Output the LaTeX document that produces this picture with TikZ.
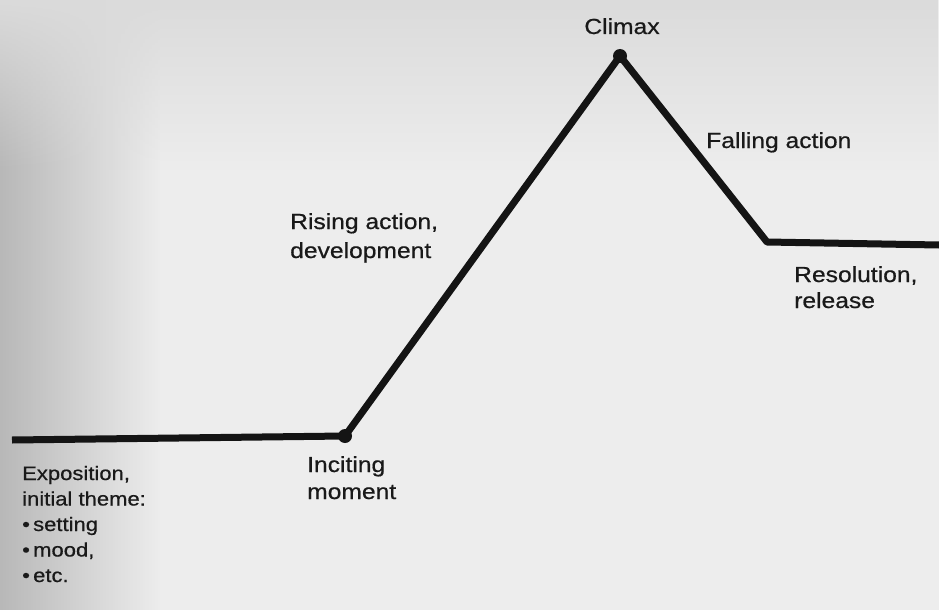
\documentclass[tikz,border=0pt]{standalone}
\usepackage{fontspec}
\usetikzlibrary{fadings}
\setmainfont[FakeStretch=1.13,FakeBold=0.6]{Liberation Sans}
\begin{document}
\begin{tikzpicture}[x=1pt,y=-1pt,
  plotline/.style={line width=7pt,line join=round,line cap=butt,black!92},
  knot/.style={circle,fill=black!92,inner sep=0pt,minimum size=14pt},
  lbl/.style={font=\fontsize{21.8}{26}\selectfont,text=black!90,inner sep=0pt,align=left,anchor=base west}]
  % paper background, darker towards the left edge and the top
  \useasboundingbox (0,0) rectangle (939,610);
  \fill[black!7] (0,0) rectangle (939,610);
  \fill[black!28,path fading=east] (0,0) rectangle (160,610);
  \fill[black!14,path fading=south] (0,0) rectangle (939,170);

  % turning points of the plot line
  \coordinate (start) at (12,440);
  \coordinate (incite) at (345,436);
  \coordinate (peak) at (620,56);
  \coordinate (settle) at (767,242);
  \coordinate (finish) at (939,245);

  \draw[plotline] (start) -- (incite) -- (peak) -- (settle) -- (finish);
  \node[knot] (inciteDot) at (incite) {};
  \node[knot] (peakDot) at (peak) {};

  % labels (base anchor sits on the last line)
  \node[lbl,anchor=base] (climax) at (622,34) {Climax};
  \node[lbl] (falling) at (706,148) {Falling action};
  \node[lbl,font=\fontsize{21.8}{29}\selectfont] (rising) at (290,258) {Rising action,\\development};
  \node[lbl,font=\fontsize{21.8}{26}\selectfont] (resol) at (794,308) {Resolution,\\release};
  \node[lbl,font=\fontsize{21.8}{27}\selectfont] (inciting) at (307,499) {Inciting\\moment};
  \node[lbl,font=\fontsize{19.5}{25.5}\selectfont] (expo) at (22,582) {Exposition,\\initial theme:\\•\,setting\\•\,mood,\\•\,etc.};
\end{tikzpicture}
\end{document}
